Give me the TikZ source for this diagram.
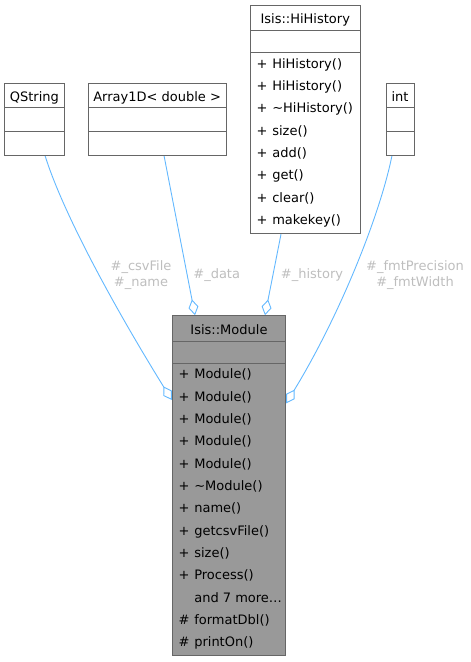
\documentclass[tikz,border=0pt]{standalone}
\usepackage{fontspec}
\setmainfont{DejaVu Sans}
\usepackage{tikz}
\usetikzlibrary{arrows.meta}
\pgfdeclarelayer{bg}
\pgfsetlayers{bg,main}
\definecolor{edgeblue}{HTML}{63B8FF}
\definecolor{boxline}{HTML}{666666}
\definecolor{modfill}{HTML}{999999}
\definecolor{lblgray}{HTML}{BEBEBE}
\newcommand{\vis}[1]{\makebox[15.8pt][l]{#1}}

\begin{document}
\begin{tikzpicture}[x=1pt, y=-1pt,
        font=\fontsize{13pt}{16.7pt}\selectfont,
        part/.style={draw=boxline, line width=1pt, fill=white, inner sep=0pt},
        title/.style={part, text height=14.6pt, text depth=3pt},
        member/.style={inner sep=0pt, anchor=base west},
        lbl/.style={text=lblgray, align=center, inner sep=0pt},
        aggr/.style={edgeblue, line width=0.9pt, -{Diamond[open, length=16pt, width=10pt]}}]
        \useasboundingbox (0,0) rectangle (471,662);
        % QString
        \node (qsT) [title, minimum width=59.3pt, minimum height=24.4pt] at (34.35, 95.5) {QString};
        \node (qsA) [part, minimum width=59.3pt, minimum height=23.3pt] at (34.35, 119.35) {};
        \node (qsM) [part, minimum width=59.3pt, minimum height=24pt] at (34.35, 143) {};
        % Array1D
        \node (arT) [title, minimum width=137.7pt, minimum height=24.4pt] at (157.15, 95.5) {Array1D< double >};
        \node (arA) [part, minimum width=137.7pt, minimum height=23.3pt] at (157.15, 119.35) {};
        \node (arM) [part, minimum width=137.7pt, minimum height=24pt] at (157.15, 143) {};
        % int
        \node (inT) [title, minimum width=28pt, minimum height=24.4pt] at (400, 95.5) {int};
        \node (inA) [part, minimum width=28pt, minimum height=23.3pt] at (400, 119.35) {};
        \node (inM) [part, minimum width=28pt, minimum height=24pt] at (400, 143) {};
        % Isis::HiHistory
        \node (hhT) [title, minimum width=109.5pt, minimum height=25pt] at (305.25, 17.5) {Isis::HiHistory};
        \node (hhA) [part, minimum width=109.5pt, minimum height=22.3pt] at (305.25, 41.15) {};
        \node (hhM) [part, minimum width=109.5pt, minimum height=181.4pt] at (305.25, 143) {};
        \foreach \m [count=\i] in {HiHistory(), HiHistory(), \textasciitilde HiHistory(),
                size(), add(), get(), clear(), makekey()}
                \node (hh\i) [member] at ({256.3}, {68.3+22.33*(\i-1)}) {\vis{+}\m};
        % Isis::Module
        \node (modT) [title, fill=modfill, minimum width=113.4pt, minimum height=25.3pt] at (229, 328.35) {Isis::Module};
        \node (modA) [part, fill=modfill, minimum width=113.4pt, minimum height=22.3pt] at (229, 352.15) {};
        \node (modM) [part, fill=modfill, minimum width=113.4pt, minimum height=292.4pt] at (229, 509.5) {};
        \foreach \v/\m [count=\i] in {+/Module(), +/Module(), +/Module(), +/Module(), +/Module(),
                +/\textasciitilde Module(), +/name(), +/getcsvFile(), +/size(), +/Process(),
                {}/and 7 more\ldots, \#/formatDbl(), \#/printOn()}
                \node (mod\i) [member] at ({178.3}, {378.8+22.33*(\i-1)}) {\vis{\v}\m};
        % edge labels
        \node (l1) [lbl] at (141, 275) {\#\_csvFile\\\#\_name};
        \node (l2) [lbl] at (216.7, 275) {\#\_data};
        \node (l3) [lbl] at (312, 275) {\#\_history};
        \node (l4) [lbl] at (415, 275) {\#\_fmtPrecision\\\#\_fmtWidth};
        \begin{pgfonlayer}{bg}
                \draw [aggr] (qsM.south -| 45,0) .. controls (62,210) and (110,300) .. (modM.west |- 0,400);
                \draw [aggr] (arM.south -| 164,0) -- (modT.north -| 195,0);
                \draw [aggr] (hhM.south -| 281,0) -- (modT.north -| 265,0);
                \draw [aggr] (inM.south -| 392,0) .. controls (380,215) and (340,315) .. (modM.east |- 0,403.3);
        \end{pgfonlayer}
\end{tikzpicture}
\end{document}
